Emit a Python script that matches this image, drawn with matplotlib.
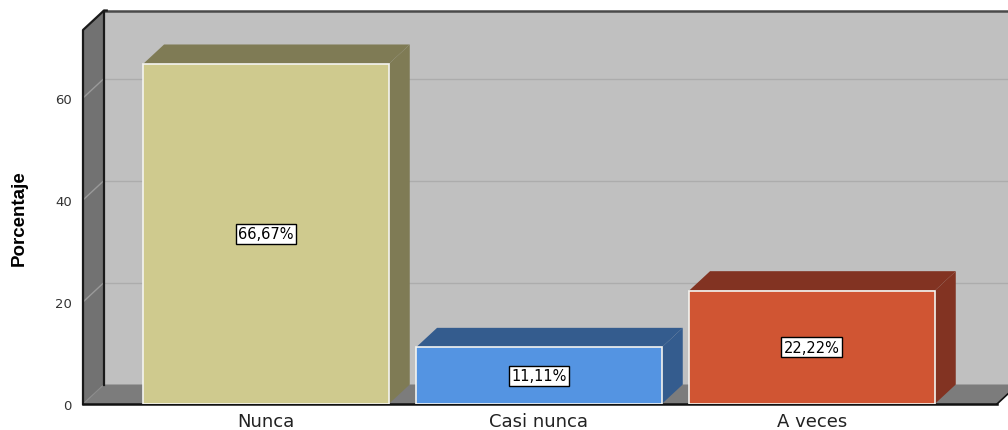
import matplotlib
matplotlib.use("Agg")
import matplotlib.pyplot as plt
from matplotlib.patches import Polygon

categories = ["Nunca", "Casi nunca", "A veces"]
values = [66.67, 11.11, 22.22]
value_labels = ["66,67%", "11,11%", "22,22%"]
front_colors = ["#cfca8e", "#5494e2", "#d05533"]
dark_colors = ["#7f7b55", "#345c8e", "#823322"]
yticks = [0, 20, 40, 60]

W, H = 1008, 431
fig = plt.figure(figsize=(W / 100, H / 100), dpi=100)
# front plane of the 3D box: x from 83px to 997px, y from 405px (0) to 31px
ax = fig.add_axes([83 / W, (H - 405) / H, (997 - 83) / W, (405 - 31) / H])
XMIN, XMAX = -0.67, 2.678
YMAX = (405 - 31) / 5.1
ax.set_xlim(XMIN, XMAX)
ax.set_ylim(0, YMAX)
for s in ax.spines.values():
    s.set_visible(False)
ax.patch.set_visible(False)

DX = 21 / 273.0
DY = 19.5 / 5.1
BW = 0.9

def poly(pts, fc, ec="none", lw=0, z=1):
    p = Polygon(pts, closed=True, facecolor=fc, edgecolor=ec, linewidth=lw,
                clip_on=False, zorder=z, joinstyle="miter")
    ax.add_patch(p)

# back wall
poly([(XMIN + DX, DY), (XMAX + DX + 1, DY), (XMAX + DX + 1, YMAX + DY), (XMIN + DX, YMAX + DY)],
     "#c0c0c0", z=0)
# back wall gridlines
for t in yticks[1:]:
    ax.plot([XMIN + DX, XMAX + DX + 1], [t + DY, t + DY], color="#acacac", lw=1.0,
            clip_on=False, zorder=0.5)
# back wall top edge
ax.plot([XMIN + DX, XMAX + DX + 1], [YMAX + DY, YMAX + DY], color="#4a4a4a", lw=1.8,
        clip_on=False, zorder=0.6)
# left wall
poly([(XMIN, 0), (XMIN, YMAX), (XMIN + DX, YMAX + DY), (XMIN + DX, DY)], "#727272", z=1)
for t in yticks[1:]:
    ax.plot([XMIN, XMIN + DX], [t, t + DY], color="#9a9a9a", lw=1.0, clip_on=False, zorder=1.1)
ax.plot([XMIN, XMIN + DX], [0, DY], color="#8a8a8a", lw=0.8, clip_on=False, zorder=1.1)
# floor
poly([(XMIN, 0), (XMAX, 0), (XMAX + DX, DY), (XMIN + DX, DY)], "#7c7c7c", z=1)
# outlines
ax.plot([XMIN + DX, XMIN + DX], [DY, YMAX + DY], color="#1a1a1a", lw=1.6, clip_on=False, zorder=1.2)
ax.plot([XMIN, XMIN, XMIN + DX, XMIN + DX + 0.01], [0, YMAX, YMAX + DY, YMAX + DY],
        color="#1a1a1a", lw=1.6, clip_on=False, zorder=1.2)
ax.plot([XMIN, XMAX], [0, 0], color="#111111", lw=1.8, clip_on=False, zorder=1.2)
ax.plot([XMAX, XMAX + DX], [0, DY], color="#111111", lw=1.2, clip_on=False, zorder=1.2)

# bars
for i, (v, fc, dc, lab) in enumerate(zip(values, front_colors, dark_colors, value_labels)):
    x0, x1 = i - BW / 2, i + BW / 2
    poly([(x0, v), (x1, v), (x1 + DX, v + DY), (x0 + DX, v + DY)], dc, z=2)
    poly([(x1, 0), (x1 + DX, DY), (x1 + DX, v + DY), (x1, v)], dc, z=2)
    ax.bar(i, v, width=BW, color=fc, edgecolor="#f4f4f0", linewidth=1.2, zorder=3)
    ax.text(i, v / 2, lab, ha="center", va="center", fontsize=10.5, color="black",
            family="DejaVu Sans", zorder=4,
            bbox=dict(boxstyle="square,pad=0.18", facecolor="white", edgecolor="black", linewidth=1.0))

ax.set_xticks(range(len(categories)))
ax.set_xticklabels(categories, fontsize=13, color="#222222", family="DejaVu Sans")
ax.set_yticks(yticks)
ax.set_yticklabels([str(t) for t in yticks], fontsize=9.5, color="#333333", family="DejaVu Sans")
ax.tick_params(axis="both", length=0)
ax.tick_params(axis="y", pad=8)
ax.tick_params(axis="x", pad=6)
ax.set_ylabel("Porcentaje", fontsize=13.5, fontweight="bold",
              family=["Liberation Sans Narrow", "Liberation Sans"])
ax.yaxis.set_label_coords((28 - 83) / (997 - 83), 0.5)

fig.savefig("out.png", dpi=100)
